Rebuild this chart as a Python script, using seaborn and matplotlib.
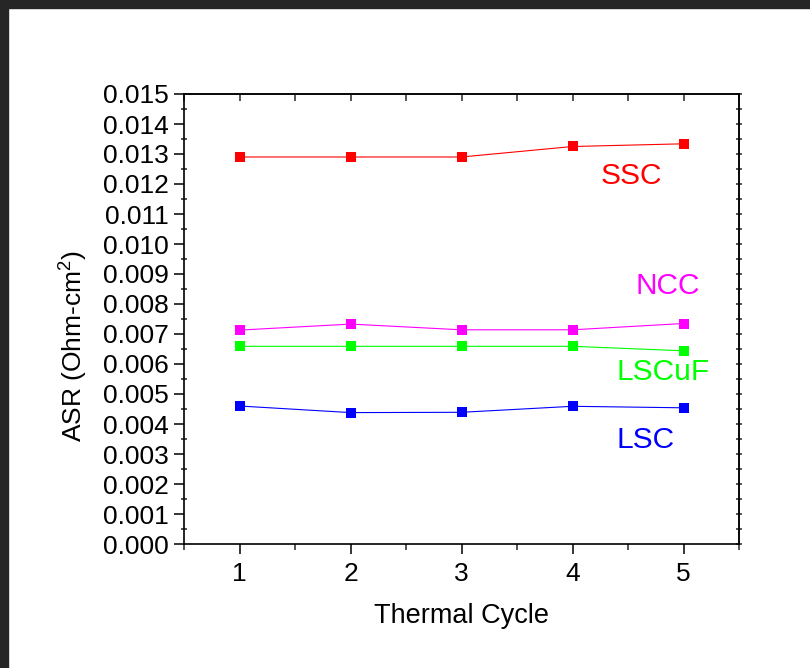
import matplotlib
matplotlib.use("Agg")
import matplotlib.pyplot as plt
from matplotlib.ticker import MultipleLocator, FormatStrFormatter
from matplotlib.patches import Rectangle
import seaborn as sns
import pandas as pd

cycles = [1, 2, 3, 4, 5]
ssc = [0.01290, 0.01290, 0.01290, 0.01325, 0.01334]
ncc = [0.00713, 0.00733, 0.00714, 0.00714, 0.00735]
lscuf = [0.00659, 0.00659, 0.00659, 0.00659, 0.00644]
lsc = [0.00460, 0.00438, 0.00439, 0.00459, 0.00454]
series_names = ["SSC", "NCC", "LSCuF", "LSC"]
series_colors = ["#ff0000", "#ff00ff", "#00ff00", "#0000ff"]

rows = []
for name, vals in zip(series_names, [ssc, ncc, lscuf, lsc]):
    for c, v in zip(cycles, vals):
        rows.append({"cycle": c, "asr": v, "series": name})
df = pd.DataFrame(rows)

sns.set_style("ticks")
plt.rcParams["font.family"] = ["Liberation Sans", "DejaVu Sans"]
plt.rcParams["mathtext.fontset"] = "custom"
plt.rcParams["mathtext.rm"] = "Liberation Sans"
plt.rcParams["text.color"] = "black"
plt.rcParams["axes.labelcolor"] = "black"

fig = plt.figure(figsize=(8.1, 6.68), dpi=100)
ax = fig.add_axes([184 / 810, 1 - 544 / 668, 555 / 810, 450 / 668])

sns.lineplot(data=df, x="cycle", y="asr", hue="series", hue_order=series_names,
             palette=series_colors, marker="s", markersize=6.5, markeredgewidth=0,
             linewidth=0.8, legend=False, ax=ax)

ax.set_xlim(0.5, 5.5)
ax.set_ylim(0, 0.015)
ax.xaxis.set_major_locator(MultipleLocator(1))
ax.xaxis.set_minor_locator(MultipleLocator(0.5))
ax.yaxis.set_major_locator(MultipleLocator(0.001))
ax.yaxis.set_minor_locator(MultipleLocator(0.0005))
ax.yaxis.set_major_formatter(FormatStrFormatter("%.3f"))

for s in ax.spines.values():
    s.set_linewidth(1.2)
    s.set_color("black")
    s.set_visible(True)

ax.tick_params(axis="both", which="major", direction="out", length=7, width=1.1,
               labelsize=19, colors="black")
ax.tick_params(axis="x", which="major", pad=6)
ax.tick_params(axis="y", which="major", pad=4)
ax.tick_params(axis="y", which="minor", direction="inout", length=5, width=1.1)
ax.tick_params(axis="x", which="minor", direction="out", length=4, width=1.1)

secx = ax.secondary_xaxis("top")
secx.xaxis.set_major_locator(MultipleLocator(1))
secx.xaxis.set_minor_locator(MultipleLocator(0.5))
secx.tick_params(which="both", direction="in", length=5, width=1.1, labeltop=False)
secx.spines["top"].set_linewidth(1.2)

secy = ax.secondary_yaxis("right")
secy.yaxis.set_major_locator(MultipleLocator(0.001))
secy.yaxis.set_minor_locator(MultipleLocator(0.0005))
secy.tick_params(which="both", direction="inout", length=4, width=1.1, labelright=False)
secy.spines["right"].set_linewidth(1.2)

ax.set_xlabel("Thermal Cycle", fontsize=19.5, color="black")
ax.xaxis.set_label_coords(0.5, -(616 - 544) / 450, transform=ax.transAxes)
ax.xaxis.label.set_va("center")
ax.set_ylabel("ASR (Ohm-cm$^2$)", fontsize=19, color="black")
ax.yaxis.set_label_coords((73 - 184) / 555, (544 - 346) / 450, transform=ax.transAxes)
ax.yaxis.label.set_va("center")

label_pos = {"SSC": (4.533, 0.01228), "NCC": (4.858, 0.0086),
             "LSCuF": (4.815, 0.00574), "LSC": (4.662, 0.00345)}
for name, col in zip(series_names, series_colors):
    x, y = label_pos[name]
    ax.text(x, y, name, color=col, fontsize=21.5, ha="center", va="center")

fig.patches.append(Rectangle((0, 1 - 8 / 668), 1, 8 / 668, transform=fig.transFigure,
                             color="#262626", zorder=-1))
fig.patches.append(Rectangle((0, 0), 8 / 810, 1, transform=fig.transFigure,
                             color="#262626", zorder=-1))

fig.savefig("out.png", dpi=100)
